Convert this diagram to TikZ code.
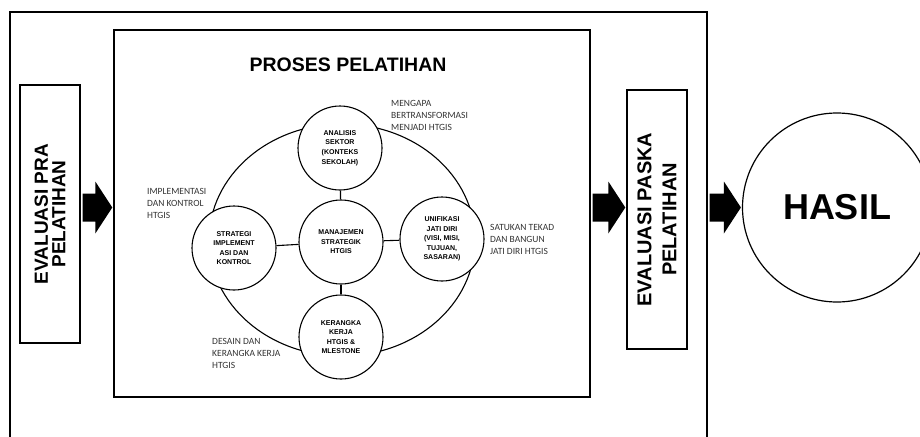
\documentclass[tikz,border=0pt]{standalone}
\usepackage{fontspec}
\usetikzlibrary{calc}
\newfontfamily\boxfont{Liberation Sans}
\newfontfamily\notefont{Carlito}

\begin{document}
\begin{tikzpicture}[x=1pt, y=-1pt,
    frame/.style={draw, line width=1.4pt, inner sep=0pt},
    evalbox/.style={frame, rotate=90, align=center},
    stage/.style={draw, circle, line width=1.1pt, fill=white, minimum size=84pt,
        inner sep=0pt, align=center, font=\boxfont\bfseries\fontsize{7}{9.6}\selectfont},
    note/.style={anchor=west, align=left, inner sep=0pt, text=black!80,
        font=\notefont\fontsize{9.5}{12}\selectfont},
    link/.style={line width=1.1pt}]
\useasboundingbox (0,0) rectangle (920,436);
\clip (0,0) rectangle (920,436);

% Frames
\node[frame, minimum width=697pt, minimum height=438pt] (outer) at (358.5,231) {};
\node[frame, minimum width=476pt, minimum height=367pt] (proses) at (352,213.5) {};
\node[font=\boxfont\bfseries\fontsize{19.5}{22}\selectfont] (title) at (348,65) {PROSES PELATIHAN};

% Evaluation boxes (rotated, so south is the right side)
\node[evalbox, minimum width=258pt, minimum height=60pt,
    font=\boxfont\bfseries\fontsize{19}{17.5}\selectfont] (prebox) at (50,214) {EVALUASI PRA\\PELATIHAN};
\node[evalbox, minimum width=259pt, minimum height=60pt,
    font=\boxfont\bfseries\fontsize{20}{25}\selectfont] (postbox) at (657,219.5) {EVALUASI PASKA\\PELATIHAN};

% Result
\node[draw, circle, line width=1.2pt, minimum size=189pt, inner sep=0pt,
    font=\boxfont\bfseries\fontsize{36}{40}\selectfont] (hasil) at (837,207.5) {HASIL};

% Block arrows
\foreach \from/\to in {prebox.south/proses.west, proses.east/postbox.north, outer.east/hasil.west} {
    \fill ($(\from |- 0,207.5)+(2,-14)$) -- ($(\to |- 0,207.5)+(-18,-14)$)
        -- ($(\to |- 0,207.5)+(-18,-26)$) -- ($(\to |- 0,207.5)+(-1,0)$)
        -- ($(\to |- 0,207.5)+(-18,26)$) -- ($(\to |- 0,207.5)+(-18,14)$)
        -- ($(\from |- 0,207.5)+(2,14)$) -- cycle;
}

% Cycle ring
\draw[line width=1.1pt] (342,240) ellipse [x radius=133, y radius=116];

% Stages
\node[stage] (core) at (341,242) {MANAJEMEN\\STRATEGIK\\HTGIS};
\node[stage] (sektor) at (340,148) {ANALISIS\\SEKTOR\\(KONTEKS\\SEKOLAH)};
\node[stage] (jatidiri) at (442,239) {UNIFIKASI\\JATI DIRI\\(VISI, MISI,\\TUJUAN,\\SASARAN)};
\node[stage] (kerangka) at (341,337) {KERANGKA\\KERJA\\HTGIS \&\\MLESTONE};
\node[stage] (strategi) at (234,248) {STRATEGI\\IMPLEMENT\\ASI DAN\\KONTROL};

\draw[link] (core) -- (sektor);
\draw[link] (core) -- (jatidiri);
\draw[link] (core) -- (kerangka);
\draw[link] (core) -- (strategi);

% Notes
\node[note] (n1) at (391,115) {MENGAPA\\BERTRANSFORMASI\\MENJADI HTGIS};
\node[note] (n2) at (490,239) {SATUKAN TEKAD\\DAN BANGUN\\JATI DIRI HTGIS};
\node[note] (n3) at (212,353) {DESAIN DAN\\KERANGKA KERJA\\HTGIS};
\node[note] (n4) at (147,203) {IMPLEMENTASI\\DAN KONTROL\\HTGIS};

\end{tikzpicture}
\end{document}
